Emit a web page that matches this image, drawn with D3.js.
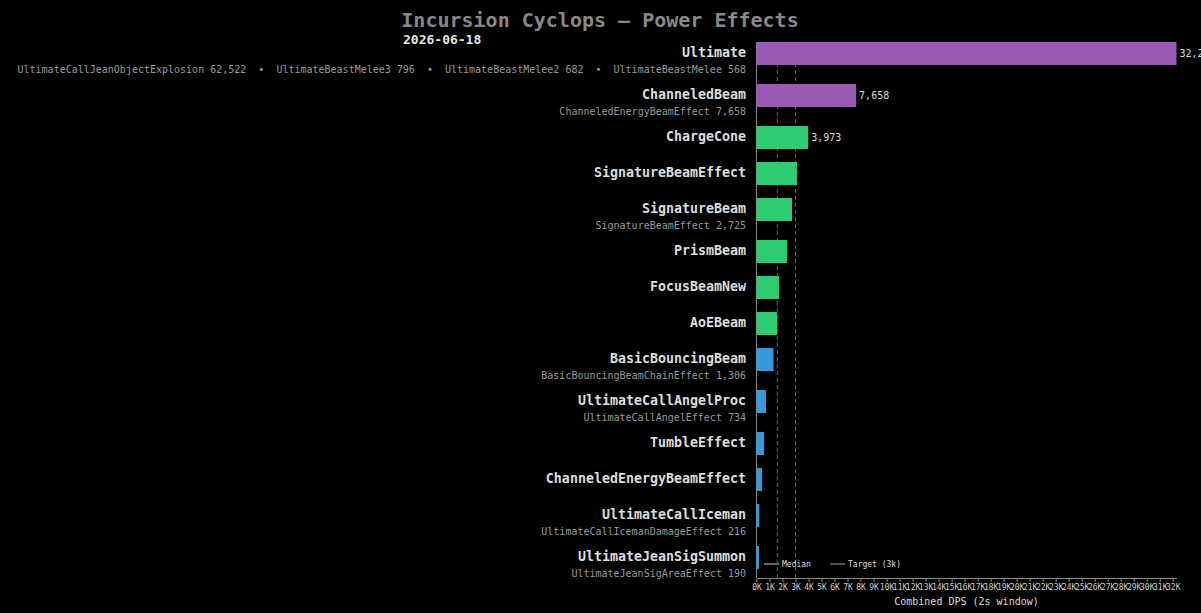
<!DOCTYPE html>
<html>
<head>
<meta charset="utf-8">
<script src="https://cdn.jsdelivr.net/npm/d3@7"></script>
<style>
    html, body { margin: 0; padding: 0; background: #000; }
    svg { display: block; font-family: "DejaVu Sans Mono", monospace; }
</style>
</head>
<body>
<div id="chart"></div>
<script>
// effect names, combined dps (2s window) and the sub effect line under each bar
const effects = [
    'Ultimate', 'ChanneledBeam', 'ChargeCone', 'SignatureBeamEffect', 'SignatureBeam',
    'PrismBeam', 'FocusBeamNew', 'AoEBeam', 'BasicBouncingBeam', 'UltimateCallAngelProc',
    'TumbleEffect', 'ChanneledEnergyBeamEffect', 'UltimateCallIceman', 'UltimateJeanSigSummon'
];
const dps = [32290, 7658, 3973, 3110, 2730, 2345, 1730, 1576, 1306, 734, 580, 420, 216, 190];
const subEffects = [
    'UltimateCallJeanObjectExplosion 62,522  •  UltimateBeastMelee3 796  •  UltimateBeastMelee2 682  •  UltimateBeastMelee 568',
    'ChanneledEnergyBeamEffect 7,658',
    '', '',
    'SignatureBeamEffect 2,725',
    '', '', '',
    'BasicBouncingBeamChainEffect 1,306',
    'UltimateCallAngelEffect 734',
    '', '',
    'UltimateCallIcemanDamageEffect 216',
    'UltimateJeanSigAreaEffect 190'
];
const medianDps = 1600;
const targetDps = 3000;
const xTicks = d3.range(0, 33000, 1000);

const W = 1201, H = 613;
const plotLeft = 756.5, plotRight = 1176.5;
const plotTop = 42, axisY = 578;
const barH = 23;

const svg = d3.select('#chart')
    .append('svg')
    .attr('width', W)
    .attr('height', H);

svg.append('rect').attr('width', W).attr('height', H).attr('fill', '#000');

const x = d3.scaleLinear()
    .domain([0, d3.max(dps)])
    .range([plotLeft, plotRight]);

const color = d3.scaleThreshold()
    .domain([1500, 5000])
    .range(['#3498db', '#2ecc71', '#9b59b6']);

// rows with a sub line get a bit more room
const rows = [];
let yy = plotTop;
effects.forEach((name, i) => {
    rows.push({ name: name, value: dps[i], sub: subEffects[i], y: yy, i: i });
    yy += 36 + (subEffects[i] ? 6 : 0);
});

// title
svg.append('text')
    .attr('x', 600).attr('y', 27)
    .attr('text-anchor', 'middle')
    .attr('font-size', 20).attr('font-weight', 'bold')
    .attr('fill', '#888')
    .text('Incursion Cyclops — Power Effects');

svg.append('text')
    .attr('x', 403).attr('y', 44)
    .attr('font-size', 13).attr('font-weight', 'bold')
    .attr('fill', '#e6e6e6')
    .text('2026-06-18');

// reference lines
svg.append('line')
    .attr('x1', x(medianDps)).attr('x2', x(medianDps))
    .attr('y1', plotTop).attr('y2', axisY)
    .attr('stroke', '#666').attr('stroke-dasharray', '4,3');

svg.append('line')
    .attr('x1', x(targetDps)).attr('x2', x(targetDps))
    .attr('y1', plotTop).attr('y2', axisY)
    .attr('stroke', '#4d6a4d').attr('stroke-dasharray', '4,3');

// y axis line
svg.append('line')
    .attr('x1', plotLeft).attr('x2', plotLeft)
    .attr('y1', plotTop).attr('y2', axisY)
    .attr('stroke', '#888');

const g = svg.append('g');

g.selectAll('rect.bar')
    .data(rows)
    .enter()
    .append('rect')
    .attr('class', 'bar')
    .attr('x', x(0))
    .attr('y', d => d.y)
    .attr('width', d => x(d.value) - x(0))
    .attr('height', barH)
    .attr('fill', d => color(d.value));

g.selectAll('text.name')
    .data(rows)
    .enter()
    .append('text')
    .attr('class', 'name')
    .attr('x', 746)
    .attr('y', d => d.y + 15)
    .attr('text-anchor', 'end')
    .attr('font-size', 13.3).attr('font-weight', 'bold')
    .attr('fill', '#ddd')
    .text(d => d.name);

g.selectAll('text.sub')
    .data(rows.filter(d => d.sub))
    .enter()
    .append('text')
    .attr('class', 'sub')
    .attr('x', 746)
    .attr('y', d => d.y + 31)
    .attr('text-anchor', 'end')
    .attr('font-size', 10)
    .attr('fill', '#999')
    .style('white-space', 'pre')
    .text(d => d.sub);

// value labels only on the top three
g.selectAll('text.val')
    .data(rows.filter(d => d.i < 3))
    .enter()
    .append('text')
    .attr('class', 'val')
    .attr('x', d => x(d.value) + 3)
    .attr('y', d => d.y + 15)
    .attr('font-size', 10)
    .attr('fill', '#ddd')
    .text(d => d3.format(',')(d.value));

// x axis
const xAxis = d3.axisBottom(x)
    .tickValues(xTicks)
    .tickFormat(d => (d / 1000) + 'K')
    .tickSize(4)
    .tickSizeOuter(0);

const axG = svg.append('g')
    .attr('transform', `translate(0,${axisY})`)
    .call(xAxis);
axG.select('.domain').attr('stroke', '#888');
axG.selectAll('.tick line').attr('stroke', '#888');
axG.selectAll('.tick text')
    .attr('fill', '#ccc')
    .attr('font-size', 8)
    .attr('font-family', '"DejaVu Sans Mono", monospace')
    .attr('dy', '0.6em');

svg.append('text')
    .attr('x', (plotLeft + plotRight) / 2).attr('y', 605)
    .attr('text-anchor', 'middle')
    .attr('font-size', 10)
    .attr('fill', '#ddd')
    .text('Combined DPS (2s window)');

// legend
const legend = [
    { label: 'Median', color: '#666', x: 764 },
    { label: 'Target (3k)', color: '#3f5f3f', x: 830 }
];
const lg = svg.selectAll('g.legend')
    .data(legend)
    .enter()
    .append('g')
    .attr('class', 'legend')
    .attr('transform', d => `translate(${d.x},564)`);
lg.append('line')
    .attr('x1', 0).attr('x2', 15)
    .attr('stroke', d => d.color).attr('stroke-width', 2);
lg.append('text')
    .attr('x', 18).attr('y', 3)
    .attr('font-size', 8)
    .attr('fill', '#ddd')
    .text(d => d.label);
</script>
</body>
</html>
